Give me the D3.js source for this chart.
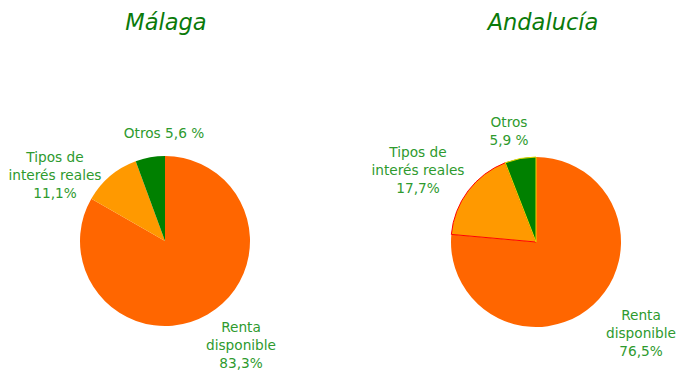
<!DOCTYPE html>
<html>
<head>
<meta charset="utf-8">
<script src="https://cdn.jsdelivr.net/npm/d3@7/dist/d3.min.js"></script>
<style>
  html, body { margin: 0; padding: 0; background: #fff; }
  svg { display: block; }
</style>
</head>
<body>
<svg id="chart" width="678" height="374"></svg>
<script>
// Shares of household spending growth by factor (%)
const categories = ["Renta disponible", "Tipos de interés reales", "Otros"];
const malagaValues = [83.3, 11.1, 5.6];
const andaluciaValues = [76.5, 17.7, 5.9];
const titles = ["Málaga", "Andalucía"];
const sliceColors = ["#FF6600", "#FF9900", "#008000"];

const svg = d3.select("#chart");
const textColor = "#2E9A2E";
const titleColor = "#0A7A0A";

const pie = d3.pie().sort(null).value(d => d);
const radius = 85;
const arc = d3.arc().innerRadius(0).outerRadius(radius);

const fmt = v => d3.format(".1f")(v).replace(".", ",");

// label layout for each panel: lines per slice and anchor offset from the pie centre
const panels = [
  {
    title: titles[0], values: malagaValues, cx: 165, cy: 241, titleX: 166,
    strokes: ["none", "none", "none"],
    labels: [
      { lines: v => ["Renta", "disponible", fmt(v) + "%"], dx: 76, dy: 86 },
      { lines: v => ["Tipos de", "interés reales", fmt(v) + "%"], dx: -110, dy: -84 },
      { lines: v => ["Otros " + fmt(v) + " %"], dx: -1, dy: -108 }
    ]
  },
  {
    title: titles[1], values: andaluciaValues, cx: 536, cy: 242, titleX: 543,
    strokes: ["none", "#FF0000", "#E8D800"],
    labels: [
      { lines: v => ["Renta", "disponible", fmt(v) + "%"], dx: 105, dy: 73 },
      { lines: v => ["Tipos de", "interés reales", fmt(v) + "%"], dx: -118, dy: -90 },
      { lines: v => ["Otros", fmt(v) + " %"], dx: -27, dy: -120 }
    ]
  }
];

panels.forEach(p => {
  svg.append("text")
    .attr("x", p.titleX).attr("y", 30)
    .attr("text-anchor", "middle")
    .attr("font-family", "DejaVu Sans")
    .attr("font-style", "italic")
    .attr("font-size", 22.5)
    .attr("fill", titleColor)
    .text(p.title);

  const g = svg.append("g").attr("transform", `translate(${p.cx},${p.cy})`);
  const arcs = pie(p.values);

  g.selectAll("path")
    .data(arcs)
    .join("path")
    .attr("d", arc)
    .attr("fill", (d, i) => sliceColors[i])
    .attr("stroke", (d, i) => p.strokes[i])
    .attr("stroke-width", 1);

  arcs.forEach((a, i) => {
    const lab = p.labels[i];
    const lines = lab.lines(p.values[i]);
    const t = g.append("text")
      .attr("text-anchor", "middle")
      .attr("font-family", "DejaVu Sans")
      .attr("font-size", 13.7)
      .attr("fill", textColor);
    lines.forEach((ln, k) => {
      t.append("tspan")
        .attr("x", lab.dx)
        .attr("y", lab.dy + k * 18)
        .attr("dy", "0.35em")
        .text(ln);
    });
  });
});
</script>
</body>
</html>
